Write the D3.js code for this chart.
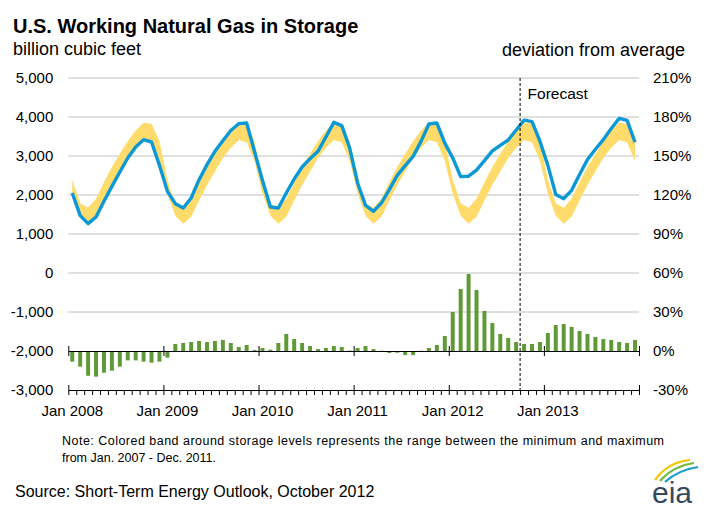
<!DOCTYPE html>
<html><head><meta charset="utf-8">
<script src="https://cdn.jsdelivr.net/npm/d3@7"></script>
<style>
body{margin:0;background:#fff}
svg{display:block}
text{font-family:"Liberation Sans",Arial,Helvetica,sans-serif;fill:#000}
</style>
</head><body>
<svg id="chart" width="704" height="510"></svg>
<script>
// ---------------- DATA ----------------
const years = [2008, 2009, 2010, 2011, 2012, 2013];
const monthNames = ["Jan","Feb","Mar","Apr","May","Jun","Jul","Aug","Sep","Oct","Nov","Dec"];
const xTickLabels = ["Jan 2008","Jan 2009","Jan 2010","Jan 2011","Jan 2012","Jan 2013"];
const leftTicks = [-3000,-2000,-1000,0,1000,2000,3000,4000,5000];
const rightTicks = [-30,0,30,60,90,120,150,180,210];
const forecastStart = "Oct 2012";

// working gas in storage, end of month (billion cubic feet)
const storage = [
  2050,1470,1265,1436,1838,2222,2590,2949,3231,3419,3359,2760,
  2094,1778,1667,1923,2393,2778,3120,3393,3655,3829,3846,3110,
  2370,1692,1667,2051,2410,2718,2932,3120,3487,3863,3778,3205,
  2308,1735,1581,1795,2137,2504,2752,2991,3376,3821,3846,3330,
  2950,2470,2482,2640,2880,3130,3270,3410,3665,3920,3880,3380,
  2760,2013,1906,2120,2525,2908,3173,3420,3705,3965,3915,3352
];
// range of 2007-2011 storage for each calendar month
const bandMaxByMonth = [2390,1790,1672,1905,2330,2720,3060,3380,3655,3850,3825,3380];
const bandMinByMonth = [2040,1470,1265,1445,1860,2255,2605,2950,3210,3410,3355,2870];
// deviation from 5-year average (%)
const deviation = [
  -8.2,-12.0,-19.0,-19.7,-16.7,-15.1,-12.0,-7.2,-7.2,-8.2,-9.0,-8.2,
  -5.1,5.4,6.2,6.9,7.7,6.9,7.7,8.5,6.2,3.1,4.6,0.8,
  2.3,1.0,6.2,13.1,9.2,6.2,3.8,1.5,2.3,3.8,3.1,0.3,
  2.3,3.8,1.5,0.2,-1.5,-1.3,-3.1,-3.1,0.2,2.3,4.6,11.5,
  30.0,47.7,59.2,46.9,30.8,21.5,13.1,10.0,6.9,5.4,5.4,6.9,
  13.8,20.0,20.8,18.5,15.4,13.1,10.8,9.2,8.5,6.9,6.2,8.5
];

// categories
const categories = [];
years.forEach(y => monthNames.forEach(m => categories.push(m + " " + y)));
const rows = categories.map((c, i) => ({
  cat: c,
  storage: storage[i],
  dev: deviation[i],
  bmax: bandMaxByMonth[i % 12],
  bmin: bandMinByMonth[i % 12]
}));

// ---------------- LAYOUT ----------------
const svg = d3.select("#chart");
const X0 = 68.3, X1 = 639, YT = 78, YB = 390;

const x = d3.scaleBand().domain(categories).range([X0, X1]).paddingInner(0.5).paddingOuter(0.25);
const cx = c => x(c) + x.bandwidth() / 2;
const xb = d3.scaleLinear().domain([0, categories.length]).range([X0, X1]); // boundaries
const yL = d3.scaleLinear().domain([-3000, 5000]).range([YB, YT]);
const yR = d3.scaleLinear().domain([-30, 210]).range([YB, YT]);

// gridlines
svg.append("g").selectAll("line").data(leftTicks.filter(v => v >= -1000))
  .join("line")
  .attr("x1", X0).attr("x2", X1)
  .attr("y1", d => yL(d)).attr("y2", d => yL(d))
  .attr("stroke", "#c0c0c0").attr("stroke-width", 1);

// band
const area = d3.area().x(d => cx(d.cat)).y0(d => yL(d.bmin)).y1(d => yL(d.bmax));
svg.append("path").datum(rows).attr("d", area).attr("fill", "#ffdb6b");

// bars
svg.append("g").selectAll("rect").data(rows).join("rect")
  .attr("x", d => x(d.cat))
  .attr("width", x.bandwidth())
  .attr("y", d => Math.min(yR(d.dev), yR(0)))
  .attr("height", d => Math.abs(yR(d.dev) - yR(0)))
  .attr("fill", "#5e9a35");

// zero-deviation axis with year ticks
const yearIdx = d3.range(0, categories.length + 1, 12);
const zeroAxis = svg.append("g").attr("transform", `translate(0,${yR(0)})`)
  .call(d3.axisBottom(xb).tickValues(yearIdx).tickSize(5).tickFormat("").tickSizeOuter(0));
zeroAxis.select(".domain").attr("stroke", "#000");
zeroAxis.selectAll(".tick line").attr("y1", -5).attr("stroke", "#000");

// bottom axis with month ticks
const bottomAxis = svg.append("g").attr("transform", `translate(0,${YB})`)
  .call(d3.axisBottom(xb).tickValues(d3.range(0, categories.length + 1)).tickSize(5).tickFormat("").tickSizeOuter(0));
bottomAxis.select(".domain").attr("stroke", "#000");
bottomAxis.selectAll(".tick line").attr("stroke", "#000")
  .attr("y1", d => d % 12 === 0 ? -5 : 0);

// x labels
svg.append("g").selectAll("text").data(xTickLabels).join("text")
  .attr("x", (d, i) => cx(categories[i * 12]))
  .attr("y", 416)
  .attr("text-anchor", "middle")
  .attr("font-size", 15)
  .text(d => d);

// storage line
const line = d3.line().x(d => cx(d.cat)).y(d => yL(d.storage));
svg.append("path").datum(rows).attr("d", line)
  .attr("fill", "none").attr("stroke", "#0a98d6").attr("stroke-width", 3.4)
  .attr("stroke-linejoin", "round");

// forecast divider
const fIdx = categories.indexOf(forecastStart);
svg.append("line")
  .attr("x1", xb(fIdx)).attr("x2", xb(fIdx))
  .attr("y1", YT).attr("y2", YB)
  .attr("stroke", "#000").attr("stroke-width", 1).attr("stroke-dasharray", "3,2");
svg.append("text").attr("x", xb(fIdx) + 7.5).attr("y", 98.5)
  .attr("font-size", 15.5).text("Forecast");

// left axis labels
const fmtComma = d3.format(",");
const la = svg.append("g").attr("transform", `translate(${X0},0)`)
  .call(d3.axisLeft(yL).tickValues(leftTicks).tickSize(0).tickPadding(15)
    .tickFormat(d => fmtComma(d).replace("\u2212", "-")));
la.select(".domain").remove();
la.selectAll("text").attr("font-size", 15).attr("fill", "#000");
la.attr("font-family", null);

// right axis labels
const ra = svg.append("g").attr("transform", `translate(${X1},0)`)
  .call(d3.axisRight(yR).tickValues(rightTicks).tickSize(0).tickPadding(14).tickFormat(d => d + "%"));
ra.select(".domain").remove();
ra.selectAll("text").attr("font-size", 15).attr("fill", "#000");
ra.attr("font-family", null);

// titles
svg.append("text").attr("x", 13).attr("y", 33).attr("font-size", 20).attr("font-weight", "bold")
  .text("U.S. Working Natural Gas in Storage");
svg.append("text").attr("x", 13).attr("y", 55).attr("font-size", 18).text("billion cubic feet");
svg.append("text").attr("x", 685).attr("y", 56).attr("text-anchor", "end").attr("font-size", 18)
  .text("deviation from average");

// note and source
svg.append("text").attr("x", 62).attr("y", 445).attr("font-size", 12.5)
  .attr("textLength", 602).attr("lengthAdjust", "spacing")
  .text("Note:  Colored band around storage levels represents the range between the minimum and maximum");
svg.append("text").attr("x", 62).attr("y", 462).attr("font-size", 12.5)
  .text("from Jan. 2007 - Dec. 2011.");
svg.append("text").attr("x", 15).attr("y", 497).attr("font-size", 16)
  .text("Source: Short-Term Energy Outlook, October 2012");

// eia logo
const logo = svg.append("g");
logo.append("path").attr("d", "M655,480 Q668,462 690,460").attr("fill", "none").attr("stroke", "#f5c400").attr("stroke-width", 2.2);
logo.append("path").attr("d", "M660,481 Q673,466 694,463").attr("fill", "none").attr("stroke", "#7ab648").attr("stroke-width", 2.2);
logo.append("path").attr("d", "M665,482 Q678,470 698,467").attr("fill", "none").attr("stroke", "#1a9ad6").attr("stroke-width", 2.2);
logo.append("text").attr("x", 672).attr("y", 503).attr("text-anchor", "middle")
  .attr("font-size", 30).attr("font-family", "'DejaVu Serif',serif").style("fill", "#34495e").text("eia");
</script>
</body></html>
